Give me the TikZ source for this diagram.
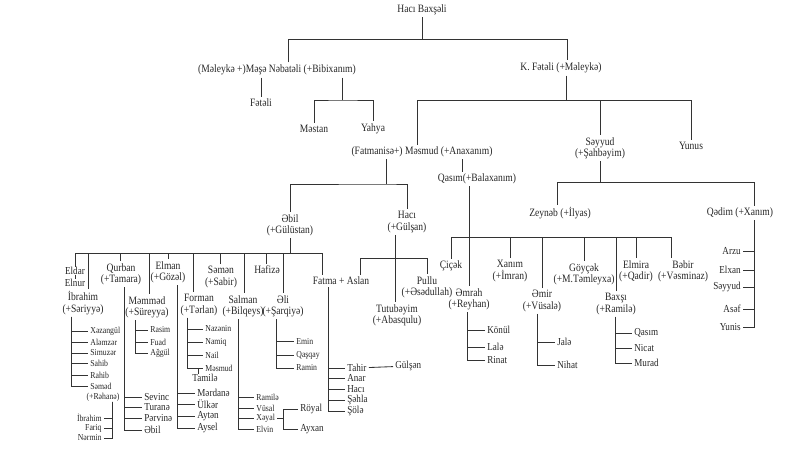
\documentclass[tikz,border=0pt]{standalone}
\usepackage{fontspec}
\setmainfont{Liberation Serif}[FakeStretch=0.85]
\begin{document}
\begin{tikzpicture}[
                x=0.025cm, y=-0.025cm,
                ad/.style={font=\fontsize{8}{8}\selectfont, align=center, inner sep=1.5pt, text=black!85},
                siyahi/.style={font=\fontsize{7.6}{7.6}\selectfont, inner xsep=1.5pt, inner ysep=0.2pt, text=black!85},
                kicik/.style={font=\fontsize{6.5}{6.5}\selectfont, inner xsep=1.5pt, inner ysep=0.2pt, text=black!85},
                xett/.style={draw=black!80, line width=0.6pt},
            ]
            \useasboundingbox (0,0) rectangle (800,459);

            \node[ad] (hb) at (422,10) {Hacı Baxşəli};
            \node[ad] (mn) at (277,70) {(Məleykə +)Məşə Nəbatəli (+Bibixanım)};
            \node[ad] (kf) at (561,68) {K. Fətəli (+Məleykə)};
            \node[ad] (fet) at (261,103) {Fətəli};
            \node[ad] (mes) at (314,129) {Məstan};
            \node[ad] (yah) at (373,129) {Yahya};
            \node[ad] (msm) at (422,152) {(Fatmanisə+) Məsmud (+Anaxanım)};
            \node[ad] (sey) at (600,148) {Səyyud\\(+Şahbəyim)};
            \node[ad] (yun) at (691,146) {Yunus};

            \draw[xett] (hb) -- (hb |- 0,39);
            \draw[xett] (mn.north -| 288,0) |- (567,39) -- (kf.north -| 567,0);
            \draw[xett] (mn.south -| fet) -- (fet);
            \draw[xett] (mn.south -| 342,0) -- (342,100);
            \draw[xett] (mes) |- (342,100) -| (yah);
            \draw[xett] (kf.south -| 566,0) -- (566,100);
            \draw[xett] (msm.north -| 417,0) |- (691,100) -- (yun);
            \draw[xett] (sey) -- (sey |- 0,100);

            % Mesmud
            \node[ad] (ebil) at (290,225) {Əbil\\(+Gülüstan)};
            \node[ad] (haci) at (407,222) {Hacı\\(+Gülşan)};
            \node[ad] (qas) at (477,179) {Qasım(+Balaxanım)};
            \draw[xett] (msm.south -| 386,0) -- (386,184);
            \draw[xett] (ebil) |- (386,184) -| (haci);
            \draw[xett] (msm.south -| 462,0) -- (qas.north -| 462,0);

            % Seyyud
            \node[ad] (zey) at (560,213) {Zeynəb (+İlyas)};
            \node[ad] (qed) at (740,213) {Qədim (+Xanım)};
            \draw[xett] (sey) -- (sey |- 0,182);
            \draw[xett] (zey.north -| 557,0) |- (754,182) -- (qed.north -| 754,0);

            \node[siyahi, anchor=east] (arzu) at (743,251) {Arzu};
            \node[siyahi, anchor=east] (elx) at (743,270) {Elxan};
            \node[siyahi, anchor=east] (sey2) at (743,287) {Səyyud};
            \node[siyahi, anchor=east] (asef) at (743,309) {Asəf};
            \node[siyahi, anchor=east] (yunis) at (743,327) {Yunis};
            \coordinate (qed-t) at (qed.south -| 754,0);
            \foreach \c in {arzu,elx,sey2,asef,yunis}
                \draw[xett] (qed-t) |- (\c.east);

            % Qasim
            \node[ad] (cic) at (451,266) {Çiçək};
            \node[ad] (emr) at (469,299) {Əmrah\\(+Reyhan)};
            \node[ad] (xan) at (510,271) {Xanım\\(+İmran)};
            \node[ad] (emir) at (542,301) {Əmir\\(+Vüsalə)};
            \node[ad] (goy) at (584,274) {Göyçək\\(+M.Təmleyxa)};
            \node[ad] (bax) at (616,304) {Baxşı\\(+Ramilə)};
            \node[ad] (elm) at (636,271) {Elmira\\(+Qadir)};
            \node[ad] (beb) at (683,271) {Bəbir\\(+Vəsminaz)};
            \draw[xett] (qas.south -| 469,0) -- (emr);
            \draw[xett] (cic) |- (671,237) -- (beb.north -| 671,0);
            \foreach \n in {xan,emir,goy,bax,elm}
                \draw[xett] (\n) -- (\n |- 0,237);

            \node[siyahi, anchor=west] (kon) at (485,330) {Könül};
            \node[siyahi, anchor=west] (lale) at (485,347) {Lalə};
            \node[siyahi, anchor=west] (rin) at (485,360) {Rinat};
            \coordinate (emr-t) at (emr.south -| 467,0);
            \foreach \c in {kon,lale,rin}
                \draw[xett] (emr-t) |- (\c.west);

            \node[siyahi, anchor=west] (jale) at (555,342) {Jalə};
            \node[siyahi, anchor=west] (nih) at (555,365) {Nihat};
            \coordinate (emir-t) at (emir.south -| 537,0);
            \foreach \c in {jale,nih}
                \draw[xett] (emir-t) |- (\c.west);

            \node[siyahi, anchor=west] (qas2) at (632,333) {Qasım};
            \node[siyahi, anchor=west] (nic) at (632,348) {Nicat};
            \node[siyahi, anchor=west] (mur) at (632,363) {Murad};
            \coordinate (bax-t) at (bax.south -| 615,0);
            \foreach \c in {qas2,nic,mur}
                \draw[xett] (bax-t) |- (\c.west);

            % Haci (+Gulshan)
            \node[ad] (fa) at (341,281) {Fatma + Aslan};
            \node[ad] (pul) at (427,287) {Pullu\\(+Əsədullah)};
            \node[ad] (tut) at (397,315) {Tutubəyim\\(+Abasqulu)};
            \draw[xett] (haci.south -| 395,0) -- (tut.north -| 395,0);
            \draw[xett] (fa.north -| 360,0) |- (427,258) -- (pul);

            \node[siyahi, anchor=west] (tah) at (345,368) {Tahir};
            \node[siyahi, anchor=west] (anar) at (345,378) {Anar};
            \node[siyahi, anchor=west] (hac2) at (345,389) {Hacı};
            \node[siyahi, anchor=west] (seh) at (345,400) {Şəhla};
            \node[siyahi, anchor=west] (sol) at (345,411) {Şölə};
            \node[siyahi, anchor=west] (gul) at (393,366) {Gülşən};
            \coordinate (fa-t) at (fa.south -| 328,0);
            \foreach \c in {tah,anar,hac2,seh,sol}
                \draw[xett] (fa-t) |- (\c.west);
            \draw[xett] (tah) -- (gul);

            % Ebil (+Gulustan)
            \node[siyahi] (eld) at (75,271) {Eldar};
            \node[siyahi] (eln) at (75,283) {Elnur};
            \node[ad] (ibr) at (83,303) {İbrahim\\(+Səriyyə)};
            \node[ad] (qur) at (121,274) {Qurban\\(+Tamara)};
            \node[ad] (mem) at (147,307) {Məmməd\\(+Süreyya)};
            \node[ad] (elman) at (168,272) {Elman\\(+Gözəl)};
            \node[ad] (form) at (199,305) {Forman\\(+Tərlan)};
            \node[ad] (semen) at (221,277) {Səmən\\(+Sabir)};
            \node[ad] (salm) at (243,306) {Salman\\(+Bilqeys)};
            \node[ad] (haf) at (267,270) {Hafizə};
            \node[ad] (eli) at (283,306) {Əli\\(+Şarqiyə)};
            \draw[xett] (ebil) -- (ebil |- 0,253);
            \draw[xett] (eld) |- (322,253) -- (fa.north -| 322,0);
            \draw[xett] (eld) -- (eln);
            \foreach \n/\x in {ibr/88,qur/120,mem/149,elman/168,form/193,semen/220,salm/244,haf/266,eli/283}
                \draw[xett] (\n.north -| \x,0) -- (\x,253);

            \node[kicik, anchor=west] (xez) at (88,331) {Xəzangül};
            \node[kicik, anchor=west] (alem) at (88,342) {Aləmzər};
            \node[kicik, anchor=west] (simu) at (88,353) {Simuzər};
            \node[kicik, anchor=west] (sahib) at (88,363) {Sahib};
            \node[kicik, anchor=west] (rahib) at (88,375) {Rahib};
            \node[kicik, anchor=west] (semed) at (88,386) {Səməd};
            \node[kicik] (reh) at (103,397) {(+Rəhanə)};
            \coordinate (ibr-t) at (ibr.south -| 71,0);
            \foreach \c in {xez,alem,simu,sahib,rahib,semed}
                \draw[xett] (ibr-t) |- (\c.west);

            \node[kicik, anchor=east] (ibr2) at (104,418) {İbrahim};
            \node[kicik, anchor=east] (far) at (104,428) {Fariq};
            \node[kicik, anchor=east] (nerm) at (104,438) {Nərmin};
            \coordinate (reh-t) at (reh.south -| 112,0);
            \foreach \c in {ibr2,far,nerm}
                \draw[xett] (reh-t) |- (\c.east);

            \node[siyahi, anchor=west] (sev) at (142,397) {Sevinc};
            \node[siyahi, anchor=west] (tur) at (142,407) {Turanə};
            \node[siyahi, anchor=west] (perv) at (142,418) {Pərvinə};
            \node[siyahi, anchor=west] (ebil2) at (142,430) {Əbil};
            \coordinate (qur-t) at (qur.south -| 124,0);
            \foreach \c in {sev,tur,perv,ebil2}
                \draw[xett] (qur-t) |- (\c.west);

            \node[kicik, anchor=west] (ras) at (148,330) {Rasim};
            \node[kicik, anchor=west] (fuad) at (148,342) {Fuad};
            \node[kicik, anchor=west] (agg) at (148,353) {Ağgül};
            \coordinate (mem-t) at (mem.south -| 135,0);
            \foreach \c in {ras,fuad,agg}
                \draw[xett] (mem-t) |- (\c.west);

            \node[siyahi, anchor=west] (merd) at (195,393) {Mərdanə};
            \node[siyahi, anchor=west] (ulk) at (195,404) {Ülkər};
            \node[siyahi, anchor=west] (ayt) at (195,416) {Aytən};
            \node[siyahi, anchor=west] (ays) at (195,428) {Aysel};
            \coordinate (elman-t) at (elman.south -| 177,0);
            \foreach \c in {merd,ulk,ayt,ays}
                \draw[xett] (elman-t) |- (\c.west);

            \node[kicik, anchor=west] (naz) at (203,329) {Nazənin};
            \node[kicik, anchor=west] (nam) at (203,342) {Namiq};
            \node[kicik, anchor=west] (nail) at (203,355) {Nail};
            \node[kicik, anchor=west] (mesm) at (203,368) {Məsmud};
            \node[siyahi] (tam) at (205,378) {Tamilə};
            \coordinate (form-t) at (form.south -| 187,0);
            \foreach \c in {naz,nam,nail,mesm}
                \draw[xett] (form-t) |- (\c.west);
            \draw[xett] (mesm.west -| 198,0) -- (tam.north -| 198,0);

            \node[kicik, anchor=west] (ram) at (254,397) {Ramilə};
            \node[kicik, anchor=west] (vus) at (254,408) {Vüsal};
            \node[kicik, anchor=west] (xey) at (254,418) {Xəyal};
            \node[kicik, anchor=west] (elv) at (254,429) {Elvin};
            \coordinate (salm-t) at (salm.south -| 238,0);
            \foreach \c in {ram,vus,xey,elv}
                \draw[xett] (salm-t) |- (\c.west);

            \node[siyahi, anchor=west] (roy) at (298,409) {Röyal};
            \node[siyahi, anchor=west] (ayx) at (298,429) {Ayxan};
            \draw[xett] (xey.east) -- ++(6,0) coordinate (xey-t);
            \foreach \c in {roy,ayx}
                \draw[xett] (xey-t) |- (\c.west);

            \node[kicik, anchor=west] (emin) at (294,341) {Emin};
            \node[kicik, anchor=west] (qasq) at (294,355) {Qaşqay};
            \node[kicik, anchor=west] (ramin) at (294,368) {Ramin};
            \coordinate (eli-t) at (eli.south -| 276,0);
            \foreach \c in {emin,qasq,ramin}
                \draw[xett] (eli-t) |- (\c.west);
        \end{tikzpicture}
\end{document}
